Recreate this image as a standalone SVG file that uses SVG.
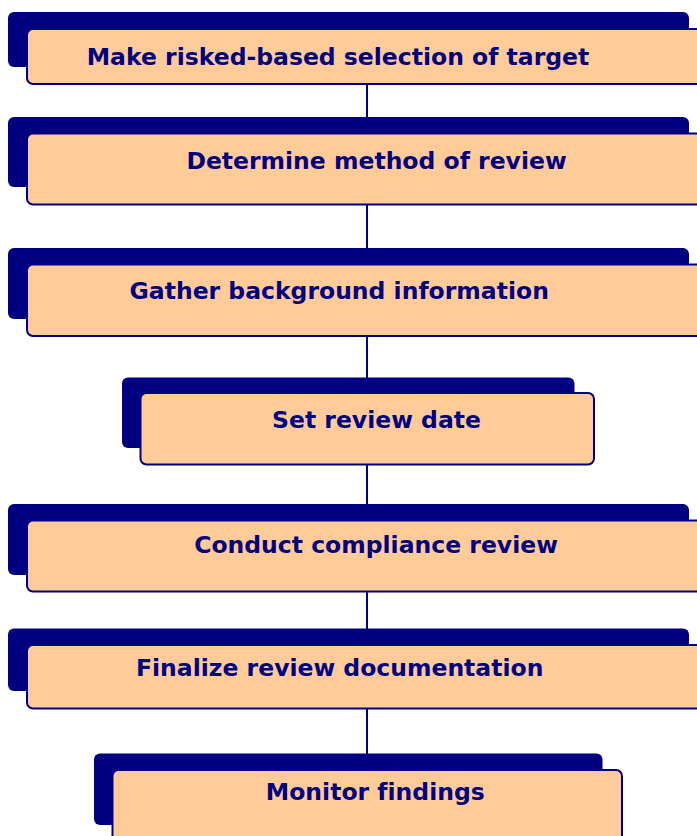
<svg xmlns="http://www.w3.org/2000/svg" width="697" height="836" viewBox="0 0 697 836">
<style>
.back{fill:#000080;stroke:none}
.front{fill:#FFCC99;stroke:#000080;stroke-width:2}
.lbl{font-family:"DejaVu Sans","Verdana",sans-serif;font-weight:bold;font-size:23.5px;fill:#000080;text-anchor:middle;font-variant-ligatures:none}
.conn{stroke:#000080;stroke-width:2;fill:none}
</style>
<rect width="697" height="836" fill="#ffffff"/>
<g id="connectors">
<line class="conn" x1="367" y1="84" x2="367" y2="118"/>
<line class="conn" x1="367" y1="204" x2="367" y2="249"/>
<line class="conn" x1="367" y1="336" x2="367" y2="378"/>
<line class="conn" x1="367" y1="465" x2="367" y2="505"/>
<line class="conn" x1="367" y1="592" x2="367" y2="629"/>
<line class="conn" x1="367" y1="708" x2="367" y2="754"/>
</g>
<g id="node1">
<rect class="back" x="8" y="12" width="681" height="55" rx="6"/>
<rect class="front" x="27" y="29" width="700" height="55" rx="6"/>
<text class="lbl" x="338" y="65">Make risked-based selection of target</text>
</g>
<g id="node2">
<rect class="back" x="8" y="117" width="681" height="70" rx="6"/>
<rect class="front" x="27" y="133.5" width="700" height="71" rx="6"/>
<text class="lbl" x="376.5" y="168.5">Determine method of review</text>
</g>
<g id="node3">
<rect class="back" x="8" y="248" width="681" height="71" rx="6"/>
<rect class="front" x="27" y="264.5" width="700" height="71.5" rx="6"/>
<text class="lbl" x="339.2" y="298.5">Gather background information</text>
</g>
<g id="node4">
<rect class="back" x="122" y="377.5" width="452.5" height="70.5" rx="6"/>
<rect class="front" x="140.5" y="393" width="453.5" height="71.5" rx="6"/>
<text class="lbl" x="376.5" y="427.5">Set review date</text>
</g>
<g id="node5">
<rect class="back" x="8" y="504" width="681" height="71" rx="6"/>
<rect class="front" x="27" y="520.5" width="700" height="71" rx="6"/>
<text class="lbl" x="376" y="553">Conduct compliance review</text>
</g>
<g id="node6">
<rect class="back" x="8" y="628.5" width="681" height="62.5" rx="6"/>
<rect class="front" x="27" y="645" width="700" height="63.5" rx="6"/>
<text class="lbl" x="339.7" y="676">Finalize review documentation</text>
</g>
<g id="node7">
<rect class="back" x="94" y="753.5" width="508.5" height="71.5" rx="6"/>
<rect class="front" x="112.5" y="770" width="509.5" height="80" rx="6"/>
<text class="lbl" x="375.3" y="800">Monitor findings</text>
</g>
</svg>
